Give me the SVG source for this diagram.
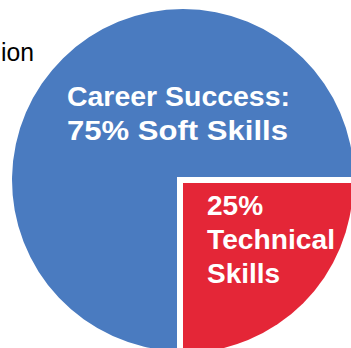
<svg xmlns="http://www.w3.org/2000/svg" width="351" height="348" viewBox="0 0 351 348">
<style>
.lbl{font-family:"Liberation Sans",Arial,sans-serif;font-weight:bold;font-size:28px;fill:#ffffff}
.cap{font-family:"Liberation Sans",Arial,sans-serif;font-size:25px;fill:#000000}
</style>
<rect width="351" height="348" fill="#ffffff"/>
<text class="cap" x="1" y="61" textLength="33" lengthAdjust="spacingAndGlyphs">ion</text>
<g id="soft">
<path d="M177,177 L177,351 A171,171 0 1 1 354,177 Z" fill="#4A7BC0"/>
<text class="lbl" x="67" y="106" textLength="223" lengthAdjust="spacingAndGlyphs">Career Success:</text>
<text class="lbl" x="67" y="140" textLength="221" lengthAdjust="spacingAndGlyphs">75% Soft Skills</text>
</g>
<g id="technical">
<path d="M183,183 L353,183 A170,170 0 0 1 183,353 Z" fill="#E42637"/>
<text class="lbl" x="207" y="215">25%</text>
<text class="lbl" x="207" y="249" textLength="128" lengthAdjust="spacingAndGlyphs">Technical</text>
<text class="lbl" x="207" y="283">Skills</text>
</g>
<g id="connectors"/>
</svg>
